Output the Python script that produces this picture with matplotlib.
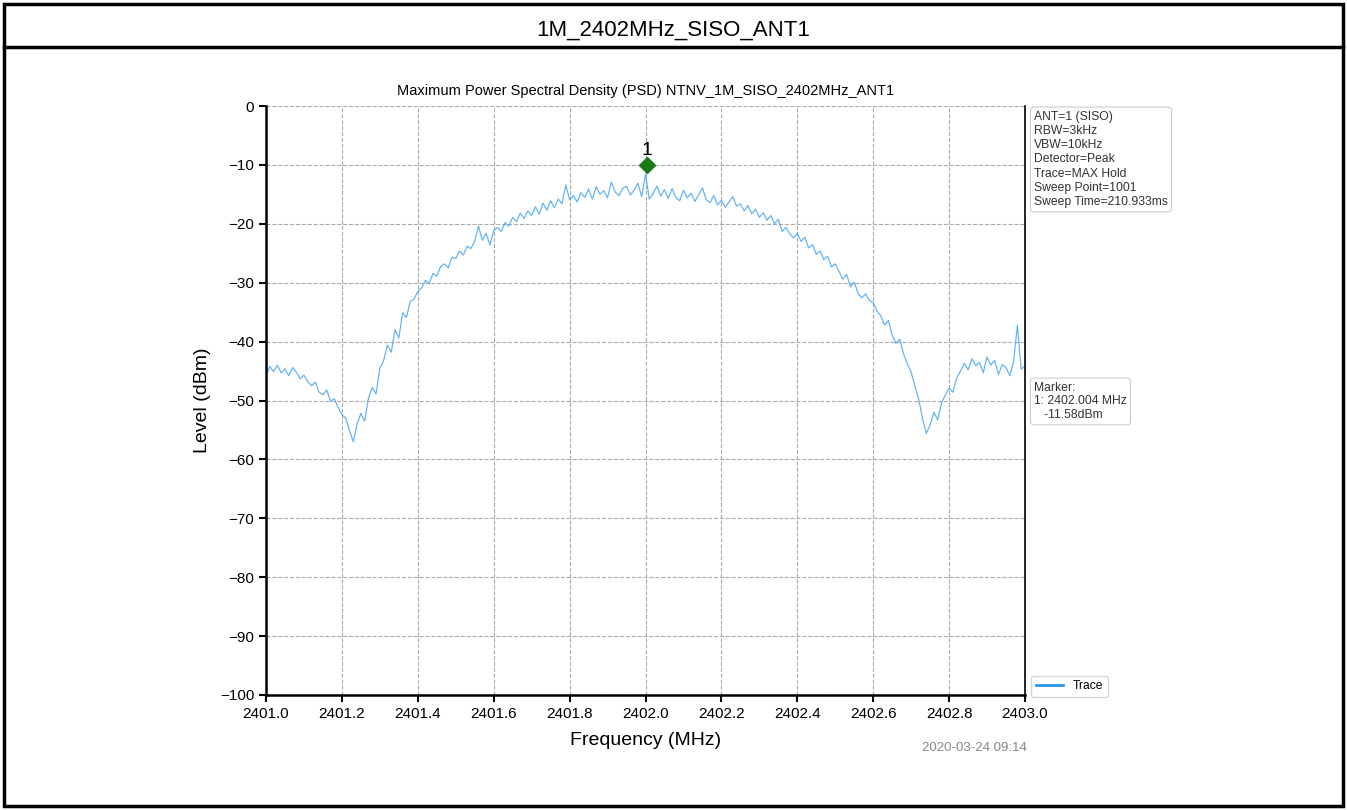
import matplotlib.pyplot as plt
import numpy as np
from matplotlib.patches import Rectangle
from matplotlib.lines import Line2D

plt.rcParams['font.family'] = ['Liberation Sans', 'DejaVu Sans']

# Trace levels (dBm) at 0.01 MHz steps from 2401.00 to 2403.00
level = [
    -46.0, -44.2, -45.1, -44.0, -45.3, -44.6, -45.8, -44.4, -45.2, -46.3, -45.7,
    -46.8, -47.5, -46.9, -48.6, -49.0, -48.2, -50.1, -49.7, -51.2, -52.4,
    -53.0, -55.1, -57.0, -54.0, -52.2, -53.5, -49.6, -47.8, -48.9, -44.5,
    -43.2, -40.6, -41.8, -38.0, -39.4, -35.1, -35.9, -33.2, -32.8, -31.5,
    -30.9, -29.6, -30.2, -28.4, -28.9, -27.3, -26.8, -27.5, -25.7, -25.9,
    -24.6, -25.3, -23.8, -24.2, -22.9, -20.4, -22.8, -21.6, -23.6, -21.2,
    -20.6, -21.3, -19.8, -20.4, -18.9, -19.6, -18.2, -19.1, -17.8, -18.6,
    -17.1, -18.4, -16.5, -17.7, -16.1, -17.3, -15.8, -16.6, -13.4, -15.9,
    -15.2, -16.3, -14.7, -15.5, -14.1, -15.8, -13.7, -15.0, -14.4, -15.6,
    -12.9, -14.6, -15.2, -14.0, -13.6, -15.1, -14.3, -13.1, -15.4, -11.6,
    -15.8, -14.9, -13.6, -15.3, -14.2, -15.7, -14.0, -15.5, -16.1, -14.3,
    -15.6, -14.8, -16.2, -15.1, -13.9, -15.9, -16.4, -15.2, -16.8, -16.0,
    -17.2, -16.3, -15.4, -17.0, -16.6, -17.8, -16.9, -18.3, -17.5, -18.9,
    -18.1, -19.4, -18.6, -20.0, -19.2, -21.3, -20.6, -21.7, -22.4, -21.6,
    -23.0, -22.3, -24.1, -23.5, -25.2, -24.6, -26.1, -25.5, -27.3, -26.8,
    -28.1, -29.4, -28.6, -30.7, -29.9, -31.8, -32.6, -31.9, -33.0, -33.4,
    -34.8, -35.6, -37.2, -36.4, -38.9, -40.3, -39.6, -42.1, -43.8, -45.2,
    -47.6, -49.8, -53.1, -55.6, -54.2, -52.0, -53.3, -50.4, -49.1, -47.9,
    -48.6, -46.2, -45.0, -43.7, -44.8, -42.9, -44.1, -43.5, -45.3, -42.6,
    -44.0, -43.2, -45.6, -43.9, -44.4, -45.8, -43.4, -37.2, -44.7, -44.1,
]
freq = np.linspace(2401.0, 2403.0, len(level))

marker_freq = 2402.004
marker_level = -11.58
marker_drawn_level = -10.0

x_ticks = [2401.0, 2401.2, 2401.4, 2401.6, 2401.8, 2402.0, 2402.2, 2402.4, 2402.6, 2402.8, 2403.0]
y_ticks = [0, -10, -20, -30, -40, -50, -60, -70, -80, -90, -100]

settings = ["ANT=1 (SISO)", "RBW=3kHz", "VBW=10kHz", "Detector=Peak",
            "Trace=MAX Hold", "Sweep Point=1001", "Sweep Time=210.933ms"]

fig = plt.figure(figsize=(13.47, 8.10), dpi=100)

# outer table frame with the header row
fig.patches.append(Rectangle((4 / 1347, 4 / 810), 1339 / 1347, 802 / 810, transform=fig.transFigure,
                             fill=False, edgecolor='black', linewidth=2.5))
fig.add_artist(Line2D([4 / 1347, 1343 / 1347], [1 - 47 / 810, 1 - 47 / 810],
                      transform=fig.transFigure, color='black', linewidth=2.5))
fig.text(0.5, 1 - 30 / 810, "1M_2402MHz_SISO_ANT1", ha='center', va='center', fontsize=16)

ax = fig.add_axes([266 / 1347, 1 - 695 / 810, 759 / 1347, 589 / 810])
ax.plot(freq, level, color='#4aa8f5', linewidth=0.9, alpha=0.85, label='Trace')
ax.plot(marker_freq, marker_drawn_level, marker='D', color='#1a7a1a', markersize=8, zorder=5)
ax.text(marker_freq, marker_drawn_level + 1.0, "1", ha='center', va='bottom', fontsize=14)

ax.set_xlim(2401.0, 2403.0)
ax.set_ylim(-100, 0)
ax.set_xticks(x_ticks)
ax.set_xticklabels([f"{t:.1f}" for t in x_ticks], fontsize=11)
ax.set_yticks(y_ticks)
ax.set_yticklabels([f"{t}".replace('-', '\u2212') for t in y_ticks], fontsize=11)
ax.grid(True, linestyle='--', color='#aaaaaa', linewidth=0.8)
ax.spines['top'].set_visible(False)
ax.spines['left'].set_linewidth(1.8)
ax.spines['bottom'].set_linewidth(1.8)
ax.spines['right'].set_linewidth(1.2)
ax.tick_params(width=1.5, length=5)

ax.set_xlabel("Frequency (MHz)", fontsize=14, labelpad=8)
ax.set_ylabel("Level (dBm)", fontsize=14, labelpad=6)
ax.set_title("Maximum Power Spectral Density (PSD) NTNV_1M_SISO_2402MHz_ANT1", fontsize=10.5, pad=8)

box = dict(boxstyle='round,pad=0.3', facecolor='white', edgecolor='#cccccc', linewidth=0.8)
ax.text(1.012, 0.992, "\n".join(settings), transform=ax.transAxes, ha='left', va='top',
        fontsize=8.7, color='#333333', linespacing=1.25, bbox=box)
ax.text(1.012, 0.532, f"Marker:\n1: {marker_freq:.3f} MHz\n   {marker_level:.2f}dBm", transform=ax.transAxes,
        ha='left', va='top', fontsize=8.7, color='#333333', linespacing=1.2, bbox=box)
leg = ax.legend(loc='lower left', bbox_to_anchor=(1.005, -0.008), fontsize=8.7, frameon=True,
                handlelength=2.2, borderaxespad=0.2)
leg.get_lines()[0].set_linewidth(2.0)
leg.get_lines()[0].set_alpha(1.0)
leg.get_lines()[0].set_color('#2b95f0')
fig.text(1027 / 1347, 1 - 748 / 810, "2020-03-24 09:14", ha='right', va='center', fontsize=9.5, color='#888888')

fig.savefig("out.png", dpi=100)
